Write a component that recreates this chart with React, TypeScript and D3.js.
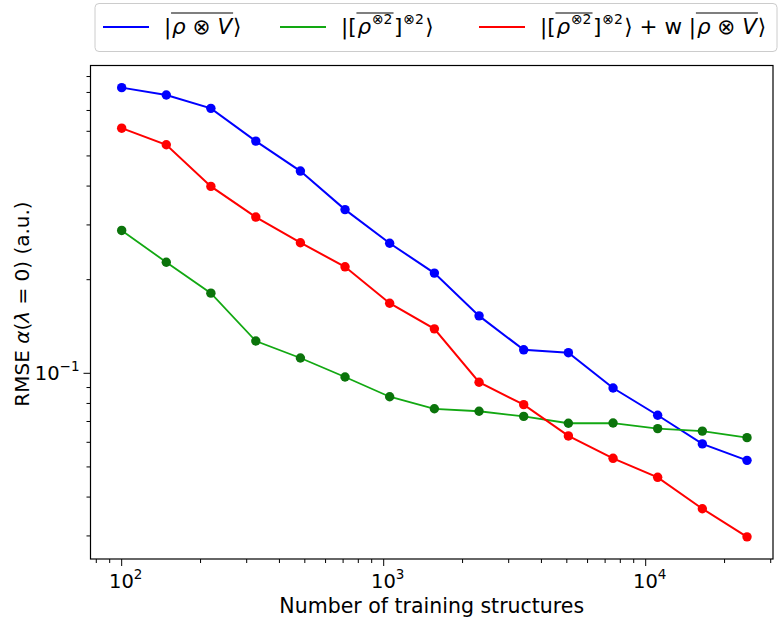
import React, { useEffect, useRef } from "react";
import * as d3 from "d3";

const xVals = [100, 148, 219, 325, 481, 712, 1054, 1561, 2312, 3423, 5069, 7506, 11109, 16451, 24360];
const blueVals = [0.829, 0.785, 0.711, 0.558, 0.447, 0.336, 0.262, 0.21, 0.153, 0.119, 0.1165, 0.0897, 0.0733, 0.0593, 0.0525];
const greenVals = [0.288, 0.2275, 0.181, 0.127, 0.112, 0.0973, 0.0841, 0.0769, 0.0755, 0.0727, 0.0691, 0.0692, 0.0664, 0.0652, 0.0621];
const redVals = [0.614, 0.543, 0.399, 0.318, 0.263, 0.22, 0.168, 0.139, 0.0936, 0.0793, 0.0629, 0.0533, 0.0463, 0.0367, 0.0298];

const xMajorTicks = [100, 1000, 10000];
const xTickExps = ["2", "3", "4"];
const yMajorTicks = [0.1];
const yTickExps = ["\u22121"];

const xLabel = "Number of training structures";
const yLabelParts: { t: string; it?: boolean }[] = [
  { t: "RMSE " }, { t: "\u03b1", it: true }, { t: "(" }, { t: "\u03bb", it: true }, { t: " = 0) (a.u.)" },
];

const W = 782, H = 620;
const box = { left: 90.5, right: 773, top: 65.5, bottom: 559 };
const FONT = "DejaVu Sans";

type Seg = { t: string; it?: boolean; sup?: boolean; over?: "start" | "end" | "both" };

const legendDefs: { color: string; marker: string; segs: Seg[] }[] = [
  {
    color: "#0000ff", marker: "#0000ff",
    segs: [{ t: "|" }, { t: "\u03c1 \u2297 V", it: true, over: "both" }, { t: "\u27e9" }],
  },
  {
    color: "#12a812", marker: "#0b740b",
    segs: [{ t: "|[" }, { t: "\u03c1", it: true, over: "start" }, { t: "\u22972", sup: true, over: "end" }, { t: "]" }, { t: "\u22972", sup: true }, { t: "\u27e9" }],
  },
  {
    color: "#ff0000", marker: "#ff0000",
    segs: [{ t: "|[" }, { t: "\u03c1", it: true, over: "start" }, { t: "\u22972", sup: true, over: "end" }, { t: "]" }, { t: "\u22972", sup: true }, { t: "\u27e9 + w |" }, { t: "\u03c1 \u2297 V", it: true, over: "both" }, { t: "\u27e9" }],
  },
];

export default function App() {
  const ref = useRef<SVGSVGElement>(null);
  useEffect(() => {
    const svg = d3.select(ref.current);
    svg.selectAll("*").remove();

    const x = d3.scaleLog().domain([76.03, 30610]).range([box.left, box.right]);
    const y = d3.scaleLog().domain([0.02529, 0.9766]).range([box.bottom, box.top]);

    svg.append("rect").attr("width", W).attr("height", H).attr("fill", "#fff");

    const xMinor: number[] = [];
    for (let e = 1; e <= 4; e++) for (let m = 2; m <= 9; m++) {
      const v = m * Math.pow(10, e);
      if (v >= 76.03 && v <= 30610) xMinor.push(v);
    }
    const yMinor: number[] = [];
    for (let e = -2; e <= -1; e++) for (let m = 2; m <= 9; m++) {
      const v = m * Math.pow(10, e);
      if (v >= 0.02529 && v <= 0.9766) yMinor.push(v);
    }
    const tk = svg.append("g").attr("stroke", "#000").attr("stroke-width", 1);
    xMinor.forEach((v) => tk.append("line").attr("x1", x(v)).attr("x2", x(v)).attr("y1", box.bottom).attr("y2", box.bottom + 4));
    xMajorTicks.forEach((v) => tk.append("line").attr("x1", x(v)).attr("x2", x(v)).attr("y1", box.bottom).attr("y2", box.bottom + 7));
    yMinor.forEach((v) => tk.append("line").attr("y1", y(v)).attr("y2", y(v)).attr("x1", box.left).attr("x2", box.left - 4));
    yMajorTicks.forEach((v) => tk.append("line").attr("y1", y(v)).attr("y2", y(v)).attr("x1", box.left).attr("x2", box.left - 7));

    xMajorTicks.forEach((v, i) => {
      const t = svg.append("text").attr("x", x(v) + 4).attr("y", 588).attr("text-anchor", "middle")
        .attr("font-family", FONT).attr("font-size", 19.5).attr("fill", "#000");
      t.append("tspan").text("10");
      t.append("tspan").attr("dy", -9).attr("font-size", 13.5).text(xTickExps[i]);
    });
    yMajorTicks.forEach((v, i) => {
      const t = svg.append("text").attr("x", box.left - 11).attr("y", y(v) + 7).attr("text-anchor", "end")
        .attr("font-family", FONT).attr("font-size", 19.5).attr("fill", "#000");
      t.append("tspan").text("10");
      t.append("tspan").attr("dy", -9).attr("font-size", 13.5).text(yTickExps[i]);
    });

    svg.append("text").attr("x", (box.left + box.right) / 2).attr("y", 613).attr("text-anchor", "middle")
      .attr("font-family", FONT).attr("font-size", 20.5).text(xLabel);
    const yl = svg.append("text").attr("transform", `translate(29,304) rotate(-90)`)
      .attr("text-anchor", "middle").attr("font-family", FONT).attr("font-size", 20);
    yLabelParts.forEach((p) => yl.append("tspan").attr("font-style", p.it ? "italic" : "normal").text(p.t));

    const series = [
      { vals: blueVals, color: legendDefs[0].color, marker: legendDefs[0].marker, w: 2 },
      { vals: greenVals, color: legendDefs[1].color, marker: legendDefs[1].marker, w: 1.8 },
      { vals: redVals, color: legendDefs[2].color, marker: legendDefs[2].marker, w: 2 },
    ];
    const line = d3.line<number>().x((_, i) => x(xVals[i])).y((d) => y(d));
    series.forEach((s) => {
      svg.append("path").attr("d", line(s.vals)).attr("fill", "none").attr("stroke", s.color).attr("stroke-width", s.w);
      s.vals.forEach((v, i) => svg.append("circle").attr("cx", x(xVals[i])).attr("cy", y(v)).attr("r", 4.7).attr("fill", s.marker));
    });

    svg.append("rect").attr("x", box.left).attr("y", box.top).attr("width", box.right - box.left).attr("height", box.bottom - box.top)
      .attr("fill", "none").attr("stroke", "#000").attr("stroke-width", 1.2);

    const lg = svg.append("g");
    lg.append("rect").attr("x", 95).attr("y", 3.5).attr("width", 682).attr("height", 48).attr("rx", 4)
      .attr("fill", "#fff").attr("stroke", "#ccc").attr("stroke-width", 1);
    const lineStarts = [103, 280, 479];
    const ly = 27;
    legendDefs.forEach((d, k) => {
      lg.append("line").attr("x1", lineStarts[k]).attr("x2", lineStarts[k] + 46).attr("y1", ly).attr("y2", ly)
        .attr("stroke", d.color).attr("stroke-width", 2);
      let cx = lineStarts[k] + 61;
      const base = ly + 7;
      let overStart = 0;
      d.segs.forEach((s) => {
        const fs = s.sup ? 14 : 21.5;
        const t = lg.append("text").attr("x", cx).attr("y", s.sup ? base - 10 : base)
          .attr("font-family", FONT).attr("font-size", fs).attr("font-style", s.it ? "italic" : "normal")
          .attr("fill", "#000").text(s.t);
        const w = (t.node() as SVGTextElement).getComputedTextLength();
        if (s.over === "start" || s.over === "both") overStart = cx;
        if (s.over === "end" || s.over === "both") {
          lg.append("line").attr("x1", overStart - 1).attr("x2", cx + w + 1).attr("y1", base - 21).attr("y2", base - 21)
            .attr("stroke", "#000").attr("stroke-width", 1.2);
        }
        cx += w + (s.sup ? 1.5 : 0.8);
      });
    });
  }, []);
  return <svg ref={ref} width={W} height={H} style={{ position: "absolute", left: 0, top: 0 }} />;
}
